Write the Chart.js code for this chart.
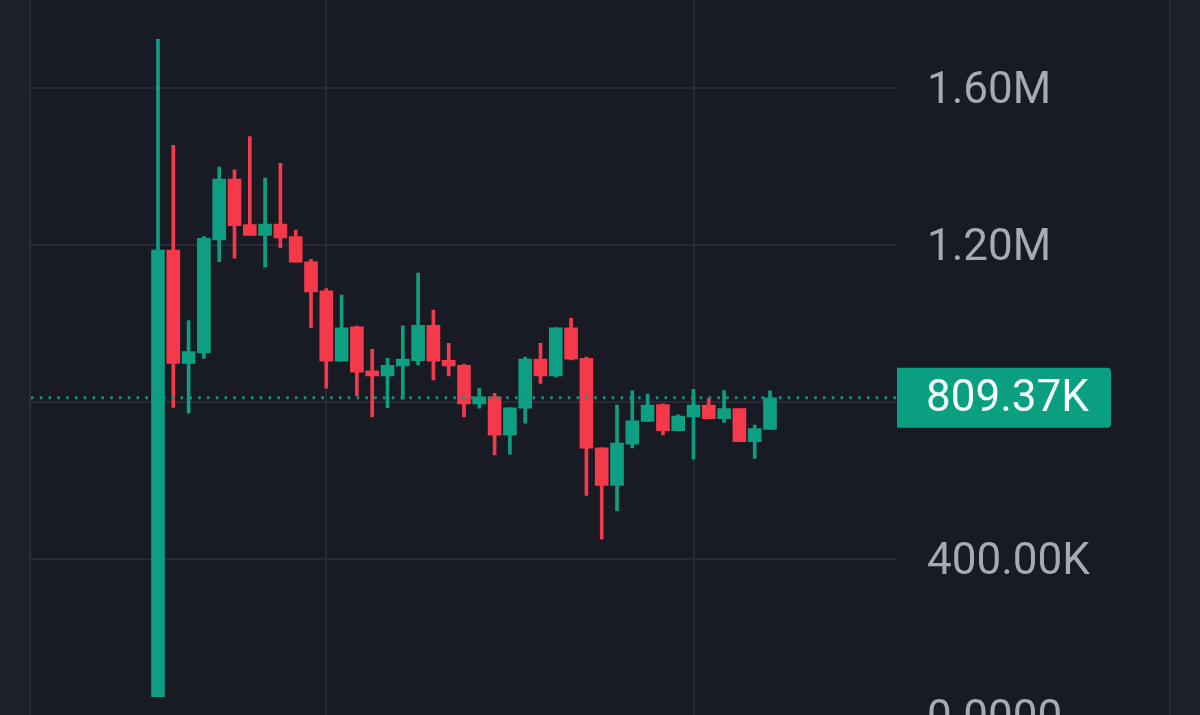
<!DOCTYPE html>
<html>
<head>
<meta charset="utf-8">
<title>Candles</title>
<script src="https://cdn.jsdelivr.net/npm/chart.js@4"></script>
<style>
html, body { margin: 0; height: 100%; background: #1e2029; overflow: hidden; }
#plot {
    position: absolute; left: 29px; top: 0; width: 1138px; height: 715px; overflow: hidden;
    background: #181a24; border-left: 2px solid #292b35; border-right: 2px solid #292b35;
}
canvas { display: block; }
</style>
</head>
<body>
<div id="plot"><canvas id="chart" width="1138" height="760"></canvas></div>
<script>
// Candle values in thousands
const opens  = [48, 1186, 897, 924, 1212, 1367, 1251, 1223, 1252, 1220, 1156, 1082, 903, 990, 878, 865, 891, 904, 994, 905, 892, 794, 812, 714, 783, 908, 865, 988, 910, 682, 586, 691, 749, 792, 726, 761, 791, 756, 782, 698, 729];
const closes = [1186, 897, 927, 1216, 1367, 1248, 1223, 1252, 1217, 1155, 1079, 903, 988, 875, 865, 892, 908, 994, 903, 891, 794, 812, 714, 784, 908, 865, 988, 908, 681, 586, 694, 751, 791, 726, 763, 791, 756, 782, 698, 731, 809.37];
const highs  = [1723, 1453, 1006, 1220, 1397, 1390, 1475, 1369, 1407, 1237, 1162, 1088, 1071, 992, 933, 910, 993, 1127, 1033, 948, 895, 834, 821, 784, 913, 948, 988, 1012, 913, 682, 791, 827, 819, 794, 766, 831, 808, 828, 782, 740, 827];
const lows   = [48, 785, 770, 910, 1156, 1165, 1223, 1142, 1192, 1155, 988, 834, 903, 815, 761, 784, 806, 893, 855, 865, 761, 783, 664, 666, 745, 846, 862, 906, 561, 449, 522, 682, 749, 715, 725, 653, 756, 747, 698, 655, 729];

const lastPrice = 809.37;
const lastPriceLabel = '809.37K';
const tickValues = [0, 400, 800, 1200, 1600];
const tickLabels = ['0.0000', '400.00K', '', '1.20M', '1.60M'];
const gridCandles = [11, 35];

const green = '#0e9f83';
const red = '#f4394a';
const gridColor = '#272933';
const fontSize = 44;
const fontFamily = 'Roboto';

const xMin = -8.3;
const xMax = 48.3;

const candleColors = opens.map((o, i) => closes[i] >= o ? green : red);

// Price tag on the axis, sits over the hidden 800K label
const priceTag = {
    id: 'priceTag',
    afterDraw(chart) {
        const c = chart.ctx;
        const y = chart.scales.y.getPixelForValue(lastPrice);
        const left = chart.chartArea.right;
        c.save();
        c.fillStyle = '#0b9f82';
        c.beginPath();
        c.roundRect(left, y - 30, 214, 60, [0, 4, 4, 0]);
        c.fill();
        c.fillStyle = '#f4fffb';
        c.font = fontSize + 'px ' + fontFamily;
        c.textAlign = 'left';
        c.textBaseline = 'middle';
        c.fillText(lastPriceLabel, left + 29, y + 2);
        c.restore();
    }
};

new Chart(document.getElementById('chart'), {
    data: {
        datasets: [
            {
                type: 'line',
                order: 0,
                data: [{ x: xMin, y: lastPrice }, { x: xMax, y: lastPrice }],
                borderColor: '#12957c',
                borderWidth: 3,
                borderDash: [2.5, 6.3],
                pointRadius: 0
            },
            {
                type: 'bar',
                order: 1,
                grouped: false,
                barThickness: 13,
                data: opens.map((o, i) => ({ x: i, y: [o, closes[i]] })),
                backgroundColor: candleColors
            },
            {
                type: 'bar',
                order: 2,
                grouped: false,
                barThickness: 3,
                data: lows.map((l, i) => ({ x: i, y: [l, highs[i]] })),
                backgroundColor: candleColors
            }
        ]
    },
    options: {
        responsive: false,
        animation: false,
        layout: { padding: { left: 0, right: 0, top: 0, bottom: 44.5 } },
        plugins: { legend: { display: false }, tooltip: { enabled: false } },
        scales: {
            x: {
                type: 'linear',
                min: xMin,
                max: xMax,
                offset: false,
                afterBuildTicks: scale => { scale.ticks = gridCandles.map(v => ({ value: v })); },
                ticks: { display: false },
                border: { display: false },
                grid: { color: gridColor, lineWidth: 2, drawTicks: false, offset: false }
            },
            y: {
                position: 'right',
                min: 0,
                max: 1823,
                afterBuildTicks: scale => { scale.ticks = tickValues.map(v => ({ value: v })); },
                afterFit: scale => {
                    scale.width = 272;
                    scale.paddingTop = 0;
                    scale.paddingBottom = 0;
                },
                ticks: {
                    padding: 30,
                    color: '#a7a9b4',
                    // empty first line nudges the text down a few pixels
                    font: { family: fontFamily, size: fontSize, lineHeight: '9px' },
                    callback: v => ['', tickLabels[tickValues.indexOf(v)]]
                },
                border: { display: false },
                grid: { color: gridColor, lineWidth: 2, drawTicks: false }
            }
        }
    },
    plugins: [priceTag]
});
</script>
</body>
</html>
